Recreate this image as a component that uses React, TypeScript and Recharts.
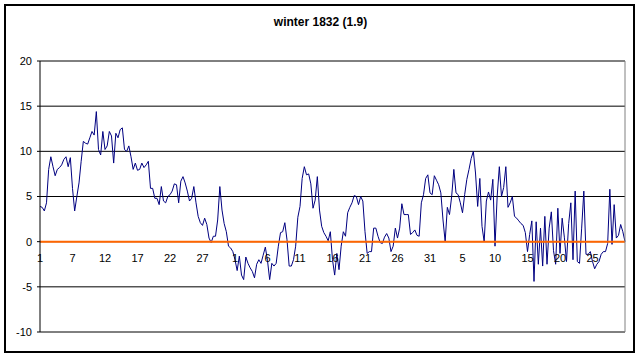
import React from 'react';
import { LineChart, Line, XAxis, YAxis, CartesianGrid, ReferenceLine } from 'recharts';

// three readings a day, 1 Dec 1831 .. 29 Feb 1832
const temps = [
  3.9, 3.8, 3.4, 4.3, 8.0, 9.4, 8.3, 7.3, 8.0, 8.2,
  8.5, 9.1, 9.4, 8.3, 9.3, 5.9, 3.4, 5.0, 6.5, 8.9,
  11.1, 10.9, 10.8, 11.5, 12.2, 11.8, 14.4, 10.2, 9.6, 12.2,
  10.2, 10.6, 12.2, 11.7, 8.7, 12.0, 11.5, 12.4, 12.6, 10.2,
  10.0, 10.6, 9.4, 8.0, 8.7, 7.9, 8.0, 8.7, 8.2, 8.5,
  8.9, 5.9, 5.9, 4.8, 4.8, 4.1, 6.1, 4.5, 4.3, 5.0,
  5.2, 5.6, 6.4, 6.3, 4.3, 6.7, 7.2, 6.5, 5.6, 4.5,
  4.8, 6.1, 4.3, 2.8, 2.1, 1.8, 2.6, 1.9, 0.4, -0.1,
  0.6, 0.6, 2.4, 6.1, 3.5, 2.0, 1.1, -0.5, -0.7, -1.1,
  -2.0, -3.2, -1.6, -3.7, -4.2, -1.7, -2.4, -2.9, -3.3, -4.0,
  -2.5, -2.0, -2.4, -1.5, -0.6, -2.1, -4.2, -2.4, -2.7, -2.4,
  -0.5, 1.0, 1.1, 2.1, 0.2, -2.7, -2.7, -2.0, -0.5, 2.7,
  3.9, 7.0, 8.3, 7.4, 7.5, 6.4, 3.7, 4.6, 7.2, 3.5,
  1.7, 1.0, 0.6, 0.1, 1.1, -2.0, -3.7, -1.3, -3.1, -0.5,
  1.1, 0.6, 3.2, 3.8, 4.3, 5.1, 5.0, 4.1, 5.0, 4.5,
  1.1, -1.3, -1.1, -1.1, 1.5, 1.5, 0.6, -0.1, -0.2, 0.5,
  0.9, 0.4, -1.1, -0.5, 1.5, 0.4, 1.5, 4.2, 3.0, 3.0,
  3.0, 0.8, 1.0, 1.3, 0.7, 0.6, 4.3, 5.2, 7.0, 7.4,
  5.4, 5.2, 7.3, 6.8, 6.3, 5.4, 2.4, 0.0, 3.8, 3.0,
  5.0, 8.0, 5.4, 5.2, 4.3, 3.2, 5.2, 6.9, 8.0, 9.2,
  10.0, 7.6, 3.9, 7.0, 1.7, 0.0, 4.5, 5.5, 4.6, 6.9,
  -0.5, 5.0, 8.3, 5.0, 6.0, 8.3, 3.8, 4.3, 5.0, 2.8,
  2.6, 2.3, 2.0, 1.8, 1.0, -1.1, 0.8, 2.3, -4.4, 2.2,
  -2.5, 1.5, -2.7, 2.8, -2.5, 1.5, 3.3, -1.0, -2.5, 3.7,
  -1.3, 2.6, 0.5, -2.2, 2.0, 4.3, -2.0, 5.6, -2.2, -2.4,
  1.5, 5.6, -1.4, -1.4, -1.1, -2.2, -3.0, -2.5, -2.2, -1.4,
  -1.1, -1.1, -0.2, 5.8, -0.3, 4.1, 0.4, 0.7, 1.9, 1.1,
  0.0,
];

const dayLabels = ['1', '7', '12', '17', '22', '27', '1', '6', '11', '16', '21', '26', '31', '5', '10', '15', '20', '25'];
const yTicks = [-10, -5, 0, 5, 10, 15, 20];

const data = temps.map((t, i) => ({ i, t }));
const xTicks = dayLabels.map((_, k) => k * 15);

const font = "'Liberation Sans', Arial, sans-serif";

const DayTick = (props: any) => {
  const { x, payload } = props;
  const label = dayLabels[Math.round(payload.value / 15)];
  return (
    <text x={x} y={262} textAnchor="middle" fontSize={11} fill="#000" fontFamily={font}>
      {label}
    </text>
  );
};

export default function App() {
  return (
    <div style={{ position: 'absolute', left: 0, top: 0, width: 641, height: 358, background: '#fff' }}>
      <div
        style={{
          position: 'absolute', left: 4, top: 4, width: 631, height: 349,
          boxSizing: 'border-box', border: '2px solid #000',
        }}
      />
      <div
        style={{
          position: 'absolute', left: 0, top: 15, width: 641, textAlign: 'center',
          fontFamily: font, fontSize: 12, fontWeight: 'bold', lineHeight: '14px', color: '#000',
        }}
      >
        winter 1832 (1.9)
      </div>
      <div style={{ position: 'absolute', left: 0, top: 0 }}>
        <LineChart width={641} height={358} data={data} margin={{ top: 61, right: 16, bottom: 0, left: 0 }}>
          <CartesianGrid horizontal={true} vertical={false} stroke="#000" strokeWidth={1} />
          <XAxis
            dataKey="i"
            type="number"
            domain={[0, 270]}
            ticks={xTicks}
            height={26}
            axisLine={false}
            tickLine={false}
            tick={<DayTick />}
            interval={0}
          />
          <YAxis
            type="number"
            domain={[-10, 20]}
            ticks={yTicks}
            width={40}
            interval={0}
            axisLine={{ stroke: '#000' }}
            tickLine={{ stroke: '#000' }}
            tickSize={3}
            tickMargin={5}
            tick={{ fill: '#000', fontSize: 11, fontFamily: font }}
          />
          <Line
            type="linear"
            dataKey="t"
            stroke="#000080"
            strokeWidth={1}
            dot={false}
            isAnimationActive={false}
          />
          <ReferenceLine y={0} stroke="#ff6600" strokeWidth={2} />
          <ReferenceLine y={-10} stroke="#808080" strokeWidth={1} />
          <ReferenceLine x={270} stroke="#808080" strokeWidth={1} />
        </LineChart>
      </div>
    </div>
  );
}
